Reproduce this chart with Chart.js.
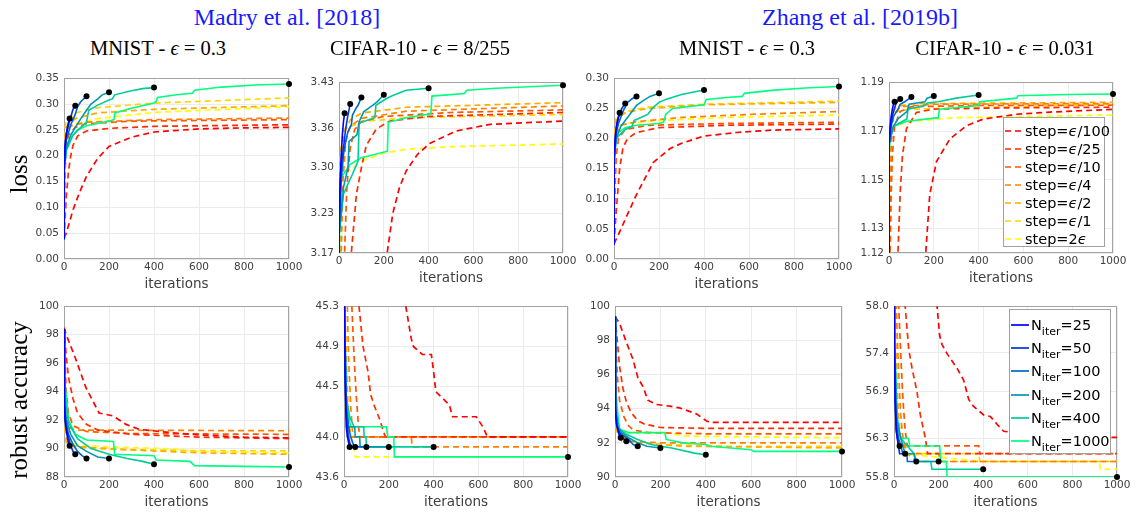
<!DOCTYPE html>
<html><head><meta charset="utf-8">
<script src="https://cdn.jsdelivr.net/npm/chart.js@4/dist/chart.umd.min.js"></script>
<style>
body{margin:0;background:#fff;width:1139px;height:513px;position:relative;overflow:hidden;font-family:'DejaVu Sans',sans-serif;}
.pane{position:absolute;}
.txt{position:absolute;transform:translate(-50%,-50%);white-space:nowrap;font-family:'Liberation Serif',serif;color:#000;z-index:5;}
.rot{transform:translate(-50%,-50%) rotate(-90deg);}
.legend{position:absolute;background:#fff;border:1px solid #a0a0a0;z-index:6;box-sizing:border-box;font-family:'DejaVu Sans',sans-serif;color:#000;}
.row{display:flex;align-items:center;white-space:nowrap;}
.row svg{flex:none;}
</style></head><body>
<div class="txt" style="left:287px;top:17px;font-size:24px;color:rgb(25,25,255)">Madry et al. [2018]</div>
<div class="txt" style="left:860px;top:17px;font-size:24px;color:rgb(25,25,255)">Zhang et al. [2019b]</div>
<div class="txt" style="left:158px;top:48px;font-size:20.5px">MNIST - <i>ϵ</i> = 0.3</div>
<div class="txt" style="left:420px;top:48px;font-size:20.5px">CIFAR-10 - <i>ϵ</i> = 8/255</div>
<div class="txt" style="left:747px;top:48px;font-size:20.5px">MNIST - <i>ϵ</i> = 0.3</div>
<div class="txt" style="left:1005px;top:48px;font-size:20.5px">CIFAR-10 - <i>ϵ</i> = 0.031</div>
<div class="txt rot" style="left:19px;top:174px;font-size:25px">loss</div>
<div class="txt rot" style="left:19px;top:400px;font-size:25px">robust accuracy</div>
<div id="leg1" class="legend" style="left:1003px;top:117px;width:102px;height:130px;padding-top:4px"></div>
<div id="leg2" class="legend" style="left:1009px;top:309px;width:102px;height:145px;padding-top:3px"></div>
<script>
// ---------- labels / ticks ----------
const STEP_LABELS = ['ϵ/100','ϵ/25','ϵ/10','ϵ/4','ϵ/2','ϵ/1','2ϵ'];
const NITER_LABELS = [25, 50, 100, 200, 400, 1000];
const X_TICKS = [0, 200, 400, 600, 800, 1000];
const A_YTICKS = ['0.00','0.05','0.10','0.15','0.20','0.25','0.30','0.35'];
const B_YTICKS = ['3.17','3.23','3.30','3.36','3.43'];
const C_YTICKS = ['0.00','0.05','0.10','0.15','0.20','0.25','0.30'];
const D_YTICKS = ['1.12','1.13','1.15','1.17','1.19'];
const E_YTICKS = ['88','90','92','94','96','98','100'];
const F_YTICKS = ['43.6','44.0','44.5','44.9','45.3'];
const G_YTICKS = ['90','92','94','96','98','100'];
const H_YTICKS = ['55.8','56.3','56.9','57.4','58.0'];

// ---------- A: Madry, MNIST, loss ----------
const A_STEP = [
 [[0,0.04],[10,0.05],[20,0.065],[40,0.095],[70,0.13],[100,0.16],[150,0.195],[200,0.218],[300,0.236],[400,0.246],[600,0.252],[800,0.254],[1000,0.255]],
 [[0,0.04],[5,0.08],[10,0.12],[20,0.17],[30,0.2],[40,0.22],[60,0.238],[100,0.248],[200,0.253],[400,0.257],[1000,0.26]],
 [[0,0.04],[3,0.12],[6,0.18],[10,0.215],[20,0.24],[50,0.255],[100,0.262],[300,0.267],[1000,0.27]],
 [[0,0.04],[2,0.15],[5,0.22],[10,0.245],[30,0.258],[100,0.265],[400,0.27],[1000,0.273]],
 [[0,0.04],[1,0.15],[3,0.23],[10,0.255],[50,0.272],[150,0.283],[400,0.29],[1000,0.297]],
 [[0,0.04],[1,0.2],[3,0.25],[10,0.268],[50,0.283],[150,0.293],[400,0.302],[700,0.307],[1000,0.312]],
 [[0,0.04],[1,0.2],[3,0.235],[10,0.25],[50,0.262],[150,0.272],[400,0.284],[1000,0.295]]
];
const A_NITER = [
 [[0,0.04],[1,0.18],[5,0.22],[10,0.24],[15,0.255],[20,0.265],[25,0.272]],
 [[0,0.04],[1,0.18],[5,0.22],[10,0.24],[20,0.26],[30,0.275],[40,0.29],[50,0.297]],
 [[0,0.04],[1,0.18],[10,0.23],[20,0.245],[30,0.26],[50,0.28],[60,0.295],[75,0.305],[100,0.315]],
 [[0,0.04],[1,0.18],[10,0.215],[30,0.24],[50,0.255],[75,0.272],[100,0.288],[120,0.3],[150,0.31],[170,0.318],[200,0.323]],
 [[0,0.04],[1,0.17],[10,0.21],[40,0.24],[70,0.253],[100,0.265],[110,0.288],[150,0.298],[200,0.308],[215,0.31],[225,0.318],[300,0.326],[350,0.33],[400,0.332]],
 [[0,0.04],[2,0.17],[10,0.215],[30,0.235],[60,0.25],[100,0.258],[200,0.267],[222,0.27],[226,0.283],[300,0.292],[400,0.302],[410,0.305],[415,0.313],[500,0.318],[570,0.321],[580,0.327],[700,0.333],[850,0.337],[1000,0.339]]
];

// ---------- B: Madry, CIFAR-10, loss ----------
const B_STEP = [
 [[180,3.05],[215,3.17],[240,3.23],[270,3.27],[300,3.295],[350,3.32],[405,3.337],[525,3.356],[675,3.366],[1000,3.371]],
 [[45,3.05],[55,3.17],[78,3.26],[100,3.30],[122,3.334],[167,3.359],[227,3.371],[400,3.378],[1000,3.384]],
 [[18,3.05],[25,3.17],[35,3.27],[50,3.33],[70,3.358],[100,3.37],[200,3.378],[500,3.384],[1000,3.388]],
 [[5,3.05],[10,3.17],[18,3.28],[30,3.34],[50,3.363],[100,3.375],[300,3.386],[1000,3.394]],
 [[0,3.05],[5,3.2],[10,3.3],[20,3.35],[50,3.373],[100,3.383],[300,3.392],[1000,3.399]],
 [[0,3.05],[1,3.2],[5,3.32],[20,3.358],[100,3.37],[300,3.376],[1000,3.381]],
 [[0,3.05],[1,3.2],[5,3.27],[20,3.29],[100,3.31],[200,3.322],[300,3.328],[500,3.332],[1000,3.336]]
];
const B_NITER = [
 [[0,3.05],[1,3.22],[5,3.28],[10,3.32],[15,3.35],[20,3.37],[25,3.383]],
 [[0,3.05],[1,3.22],[5,3.27],[10,3.3],[20,3.33],[30,3.36],[40,3.38],[50,3.397]],
 [[0,3.05],[1,3.2],[10,3.28],[20,3.32],[30,3.34],[40,3.355],[55,3.365],[60,3.38],[75,3.39],[85,3.395],[100,3.407]],
 [[0,3.05],[1,3.2],[20,3.27],[40,3.3],[45,3.34],[80,3.35],[90,3.37],[110,3.385],[150,3.395],[170,3.4],[200,3.411]],
 [[0,3.05],[1,3.2],[20,3.26],[60,3.29],[85,3.31],[90,3.368],[160,3.376],[165,3.395],[210,3.405],[240,3.41],[300,3.418],[400,3.421]],
 [[0,3.05],[2,3.25],[10,3.285],[50,3.305],[100,3.315],[216,3.325],[220,3.369],[300,3.376],[410,3.382],[415,3.409],[560,3.413],[570,3.418],[700,3.421],[1000,3.4255]]
];

// ---------- C: Zhang, MNIST, loss ----------
const C_STEP = [
 [[0,0.025],[25,0.045],[55,0.07],[100,0.107],[174,0.16],[248,0.183],[300,0.192],[397,0.204],[545,0.21],[700,0.214],[1000,0.216]],
 [[0,0.025],[10,0.08],[25,0.15],[40,0.185],[60,0.2],[100,0.21],[200,0.218],[500,0.222],[1000,0.224]],
 [[0,0.025],[5,0.12],[10,0.17],[20,0.2],[50,0.215],[150,0.222],[500,0.225],[1000,0.227]],
 [[0,0.025],[2,0.13],[5,0.19],[10,0.21],[30,0.222],[100,0.228],[300,0.235],[600,0.24],[1000,0.245]],
 [[0,0.025],[1,0.15],[3,0.2],[10,0.23],[50,0.243],[150,0.25],[400,0.256],[1000,0.26]],
 [[0,0.025],[1,0.18],[3,0.22],[10,0.235],[50,0.245],[150,0.252],[400,0.257],[1000,0.262]],
 [[0,0.025],[1,0.18],[3,0.21],[10,0.22],[50,0.225],[200,0.23],[500,0.235],[1000,0.239]]
];
const C_NITER = [
 [[0,0.025],[1,0.17],[5,0.2],[10,0.22],[20,0.237],[25,0.2426]],
 [[0,0.025],[1,0.17],[10,0.215],[20,0.235],[35,0.25],[50,0.2583]],
 [[0,0.025],[1,0.17],[10,0.21],[20,0.225],[40,0.245],[60,0.26],[80,0.266],[100,0.2697]],
 [[0,0.025],[1,0.17],[10,0.2],[30,0.22],[50,0.23],[70,0.24],[100,0.255],[130,0.263],[160,0.27],[200,0.275]],
 [[0,0.025],[1,0.16],[10,0.2],[50,0.215],[80,0.22],[90,0.23],[150,0.24],[170,0.25],[200,0.26],[230,0.265],[300,0.273],[400,0.2805]],
 [[0,0.025],[1,0.15],[5,0.19],[20,0.21],[50,0.218],[100,0.222],[200,0.225],[220,0.227],[230,0.24],[260,0.25],[400,0.256],[410,0.265],[500,0.268],[570,0.27],[580,0.275],[700,0.28],[850,0.284],[1000,0.2865]]
];

// ---------- D: Zhang, CIFAR-10, loss ----------
const D_STEP = [
 [[150,1.10],[164,1.12],[182,1.144],[212,1.1575],[272,1.1668],[346,1.1722],[421,1.1749],[570,1.1769],[720,1.1778],[1000,1.1789]],
 [[30,1.10],[40,1.12],[50,1.145],[60,1.16],[78,1.171],[122,1.1776],[197,1.179],[500,1.1795],[1000,1.1798]],
 [[2,1.10],[5,1.12],[10,1.145],[15,1.16],[25,1.172],[50,1.178],[100,1.18],[400,1.1805],[1000,1.1806]],
 [[1,1.10],[3,1.12],[5,1.145],[10,1.165],[20,1.176],[50,1.18],[200,1.181],[1000,1.1813]],
 [[0,1.10],[1,1.12],[3,1.15],[5,1.165],[10,1.175],[30,1.18],[100,1.1812],[1000,1.1818]],
 [[0,1.10],[1,1.13],[3,1.16],[10,1.175],[30,1.178],[100,1.179],[1000,1.181]],
 [[0,1.10],[1,1.15],[5,1.168],[20,1.172],[100,1.174],[300,1.1755],[1000,1.1766]]
];
const D_NITER = [
 [[0,1.10],[1,1.165],[5,1.172],[10,1.176],[15,1.179],[20,1.181],[25,1.182]],
 [[0,1.10],[1,1.165],[5,1.17],[10,1.174],[20,1.178],[30,1.181],[40,1.1825],[50,1.1832]],
 [[0,1.10],[1,1.165],[10,1.172],[20,1.176],[40,1.179],[50,1.181],[70,1.182],[100,1.184]],
 [[0,1.10],[1,1.165],[20,1.172],[40,1.175],[80,1.178],[90,1.181],[160,1.182],[170,1.1835],[200,1.1844]],
 [[0,1.10],[1,1.165],[20,1.172],[80,1.175],[85,1.179],[160,1.1805],[170,1.1815],[220,1.182],[300,1.1835],[400,1.1848]],
 [[0,1.10],[1,1.16],[5,1.168],[20,1.172],[80,1.174],[220,1.1755],[225,1.179],[400,1.1805],[405,1.182],[570,1.1835],[575,1.1845],[800,1.185],[1000,1.1852]]
];

// ---------- E: Madry, MNIST, robust accuracy ----------
const E_STEP = [
 [[0,98.5],[10,98],[52,96.3],[97,94.3],[156,92.5],[216,92.3],[276,91.7],[335,91.35],[455,91.15],[604,90.95],[800,90.8],[1000,90.75]],
 [[0,98.5],[10,96.5],[20,95],[40,93.5],[60,92.5],[100,91.7],[150,91.3],[300,91.0],[600,90.8],[1000,90.7]],
 [[0,98.5],[5,96],[10,94],[20,92.5],[40,91.6],[100,91.2],[300,91.05],[1000,91.0]],
 [[0,98.5],[3,95],[8,92.5],[20,91.5],[50,91.3],[1000,91.25]],
 [[0,98.5],[2,94],[5,91.5],[10,90.5],[30,90.2],[100,90.1],[300,89.9],[600,89.7],[1000,89.6]],
 [[0,98.5],[2,93],[5,91],[10,90.4],[50,90.1],[200,89.95],[600,89.85],[1000,89.84]],
 [[0,98.5],[1,94],[3,91.5],[10,90.6],[50,90.3],[200,90.1],[450,90.0],[600,89.8],[1000,89.7]]
];
const E_NITER = [
 [[0,98.4],[2,93],[5,92],[10,91.3],[15,90.8],[20,90.4],[25,90.2]],
 [[0,98.4],[2,93],[5,92],[10,91.5],[20,90.8],[30,90.2],[40,89.8],[50,89.6]],
 [[0,98.4],[2,93],[10,91.8],[20,91.0],[40,90.3],[60,89.8],[80,89.5],[100,89.3]],
 [[0,98.4],[2,93.5],[10,92],[30,91],[60,90.2],[100,89.8],[150,89.4],[200,89.3]],
 [[0,98.4],[2,94],[20,91.8],[60,90.7],[120,90.0],[200,89.6],[280,89.3],[350,89.1],[400,88.9]],
 [[0,98.4],[2,95],[20,92],[50,91],[100,90.6],[220,90.5],[225,89.6],[400,89.5],[410,89.2],[560,89.1],[580,88.8],[800,88.75],[1000,88.7]]
];

// ---------- F: Madry, CIFAR-10, robust accuracy ----------
const F_STEP = [
 [[265,46.0],[276,45.3],[300,44.98],[310,44.9],[350,44.82],[390,44.82],[400,44.65],[410,44.45],[470,44.32],[485,44.2],[590,44.2],[620,44.1],[640,44.0],[1000,44.0]],
 [[60,46.0],[67,45.3],[85,44.9],[107,44.65],[119,44.42],[137,44.3],[160,44.17],[175,44.06],[185,44.0],[1000,44.0]],
 [[30,46.0],[35,45.3],[45,44.8],[55,44.4],[65,44.1],[70,44.0],[1000,44.0]],
 [[10,46.0],[15,45.3],[20,44.8],[30,44.3],[40,44.0],[300,44.0],[305,43.9],[1000,43.9]],
 [[0,46.0],[5,45.3],[10,44.8],[20,44.2],[30,44.0],[1000,44.0]],
 [[0,46.0],[3,45.3],[10,44.5],[20,44.0],[1000,44.0]],
 [[0,46.0],[3,45.3],[10,44.4],[30,44.0],[45,43.9],[50,43.8],[1000,43.8]]
];
const F_NITER = [
 [[0,46.0],[2,45.3],[5,44.6],[10,44.1],[15,44.0],[20,43.95],[25,43.9]],
 [[0,46.0],[2,45.3],[5,44.6],[10,44.2],[20,44.0],[30,43.9],[50,43.9]],
 [[0,46.0],[2,45.3],[10,44.3],[20,44.1],[30,44.0],[45,43.9],[100,43.9]],
 [[0,46.0],[2,45.3],[10,44.3],[20,44.1],[48,44.1],[50,44.0],[70,44.0],[72,43.9],[200,43.9]],
 [[0,46.0],[2,45.3],[10,44.4],[25,44.2],[45,44.1],[88,44.1],[90,44.0],[98,44.0],[100,43.9],[400,43.9]],
 [[0,46.0],[2,45.3],[5,44.8],[10,44.4],[20,44.2],[30,44.1],[190,44.1],[195,44.0],[222,44.0],[225,43.8],[1000,43.8]]
];

// ---------- G: Zhang, MNIST, robust accuracy ----------
const G_STEP = [
 [[0,99.4],[20,99.0],[50,97.9],[79,96.9],[101,95.8],[123,95.3],[145,94.5],[182,94.25],[240,94.15],[284,94.05],[358,93.7],[402,93.3],[416,93.2],[1000,93.2]],
 [[0,99.4],[10,98],[20,96.5],[35,95.2],[50,94.4],[70,93.8],[100,93.3],[130,93.1],[200,92.9],[400,92.85],[1000,92.85]],
 [[0,99.4],[5,97.5],[10,96],[20,94.5],[40,93.5],[60,93],[80,92.75],[150,92.6],[400,92.53],[1000,92.53]],
 [[0,99.4],[3,96],[8,94],[15,93],[30,92.4],[60,92.1],[200,92.0],[1000,92.0]],
 [[0,99.4],[2,96],[5,93.5],[10,92.6],[30,92.1],[100,92.0],[300,91.8],[1000,91.7]],
 [[0,99.4],[2,95],[5,93],[10,92.4],[50,92.1],[200,91.9],[500,91.8],[1000,91.8]],
 [[0,99.4],[1,95],[3,93.5],[10,92.8],[50,92.6],[250,92.55],[300,92.4],[600,92.35],[1000,92.3]]
];
const G_NITER = [
 [[0,99.4],[2,94],[5,93.2],[10,92.9],[15,92.6],[20,92.4],[25,92.3]],
 [[0,99.4],[2,94],[10,92.9],[20,92.6],[30,92.4],[40,92.2],[50,92.1]],
 [[0,99.4],[2,94],[10,93],[20,92.6],[40,92.4],[60,92.2],[80,91.9],[100,91.8]],
 [[0,99.4],[2,94],[10,93],[30,92.6],[60,92.3],[100,92.0],[140,91.8],[200,91.7]],
 [[0,99.4],[2,94],[20,92.8],[50,92.5],[100,92.2],[160,91.9],[200,91.8],[250,91.7],[350,91.4],[400,91.3]],
 [[0,99.4],[2,95],[20,92.8],[60,92.6],[220,92.6],[225,92.2],[300,92.0],[400,91.9],[420,91.8],[600,91.6],[610,91.5],[1000,91.5]]
];

// ---------- H: Zhang, CIFAR-10, robust accuracy ----------
const H_STEP = [
 [[188,58.3],[193,58.0],[205,57.62],[215,57.51],[238,57.39],[283,57.2],[312,57.05],[335,56.8],[357,56.71],[402,56.6],[432,56.58],[462,56.48],[492,56.39],[600,56.35],[800,56.32],[1000,56.31]],
 [[45,58.3],[50,58.0],[66,57.45],[81,57.2],[103,56.9],[118,56.6],[140,56.31],[151,56.1],[1000,56.1]],
 [[15,58.3],[21,58.0],[30,57.4],[40,56.8],[50,56.4],[60,56.2],[380,56.2],[385,56.1],[1000,56.1]],
 [[5,58.3],[10,58.0],[20,57.2],[30,56.6],[40,56.3],[60,56.1],[200,56.1],[210,56.0],[1000,56.0]],
 [[2,58.3],[5,58.0],[10,57.3],[20,56.6],[30,56.3],[60,56.1],[100,56.0],[1000,56.0]],
 [[0,58.3],[3,58.0],[10,57.0],[20,56.4],[40,56.1],[380,56.1],[385,56.0],[1000,56.0]],
 [[0,58.3],[2,58.0],[10,56.8],[20,56.3],[40,56.1],[400,56.0],[920,56.0],[925,55.9],[1000,55.9]]
];
const H_NITER = [
 [[0,58.3],[2,57.5],[5,56.8],[10,56.4],[15,56.3],[20,56.2],[25,56.2]],
 [[0,58.3],[2,57.5],[5,56.8],[10,56.4],[20,56.2],[25,56.1],[50,56.1]],
 [[0,58.3],[2,57.5],[10,56.5],[20,56.3],[40,56.1],[58,56.1],[60,56.0],[100,56.0]],
 [[0,58.3],[2,57.5],[10,56.6],[30,56.3],[50,56.1],[90,56.1],[95,56.0],[200,56.0]],
 [[0,58.3],[2,57.6],[15,56.5],[30,56.3],[90,56.1],[100,56.0],[165,56.0],[170,55.9],[400,55.9]],
 [[0,58.3],[2,57.7],[10,56.8],[20,56.4],[30,56.3],[65,56.3],[70,56.2],[205,56.2],[210,56.0],[235,56.0],[238,55.8],[1000,55.8]]
];

// ---------- styles / layout ----------
const STEP_COLORS = ['rgb(255,0,0)','rgb(255,43,0)','rgb(255,85,0)','rgb(255,128,0)','rgb(255,170,0)','rgb(255,213,0)','rgb(255,255,0)'];
const NITER_COLORS = ['rgb(0,0,255)','rgb(0,51,230)','rgb(0,102,204)','rgb(0,153,179)','rgb(0,204,153)','rgb(0,255,128)'];
const PANELS = [
 {step:A_STEP, niter:A_NITER, ticks:A_YTICKS, rect:[64,75,225,184]},
 {step:B_STEP, niter:B_NITER, ticks:B_YTICKS, rect:[339,79,224,174]},
 {step:C_STEP, niter:C_NITER, ticks:C_YTICKS, rect:[614,75,225,184]},
 {step:D_STEP, niter:D_NITER, ticks:D_YTICKS, rect:[889,79,224,174]},
 {step:E_STEP, niter:E_NITER, ticks:E_YTICKS, rect:[64,303,225,174]},
 {step:F_STEP, niter:F_NITER, ticks:F_YTICKS, rect:[344,303,224,174]},
 {step:G_STEP, niter:G_NITER, ticks:G_YTICKS, rect:[615,303,227,174]},
 {step:H_STEP, niter:H_NITER, ticks:H_YTICKS, rect:[894,303,223,174]}
];
const YW = 46, PT = 8, PR = 18, XH = 34;
const DASH = [6, 4];

const boxPlugin = {
  id:'box',
  beforeDatasetsDraw(chart){
    const {ctx, chartArea:a} = chart;
    ctx.save(); ctx.strokeStyle = '#a3a3a3'; ctx.lineWidth = 1;
    ctx.strokeRect(Math.round(a.left)+0.5, Math.round(a.top)+0.5, Math.round(a.right-a.left)-1, Math.round(a.bottom-a.top)-1);
    ctx.restore();
  }
};

function makePanel(p){
  const [L,T,W,H] = p.rect;
  const cw = W + YW + PR, ch = H + PT + XH;
  const div = document.createElement('div');
  div.className = 'pane';
  div.style.left = (L-YW)+'px'; div.style.top = (T-PT)+'px';
  div.style.width = cw+'px'; div.style.height = ch+'px';
  const cv = document.createElement('canvas');
  cv.width = cw; cv.height = ch; cv.style.width = cw+'px'; cv.style.height = ch+'px';
  div.appendChild(cv); document.body.appendChild(div);
  const yVals = p.ticks.map(Number);
  const datasets = [];
  p.step.forEach((s,i)=>datasets.push({
    label:'step='+STEP_LABELS[i], data:s.map(([x,y])=>({x,y})), showLine:true,
    borderColor:STEP_COLORS[i], borderDash:DASH, borderWidth:1.7, pointRadius:0, order:2, clip:0
  }));
  p.niter.forEach((s,i)=>datasets.push({
    label:'Niter='+NITER_LABELS[i], data:s.map(([x,y])=>({x,y})), showLine:true,
    borderColor:NITER_COLORS[i], borderWidth:1.6, pointRadius:0, order:1, clip:0
  }));
  datasets.push({
    label:'end', data:p.niter.map(s=>{const [x,y]=s[s.length-1]; return {x,y};}),
    showLine:false, pointRadius:3, pointBackgroundColor:'#000', pointBorderColor:'#000', borderWidth:0, order:0, clip:false
  });
  const tickFont = {family:'DejaVu Sans', size:10.5};
  new Chart(cv, {
    type:'scatter',
    data:{datasets},
    plugins:[boxPlugin],
    options:{
      responsive:false, animation:false, events:[], devicePixelRatio:1,
      layout:{padding:{top:PT, right:PR, left:0, bottom:0}},
      plugins:{legend:{display:false}, tooltip:{enabled:false}},
      scales:{
        x:{type:'linear', min:0, max:1000,
           afterBuildTicks: ax=>{ ax.ticks = X_TICKS.map(v=>({value:v})); },
           afterFit: s=>{ s.height = XH; },
           ticks:{font:tickFont, color:'#404040', padding:2, maxRotation:0, autoSkip:false, callback:v=>String(v)},
           grid:{color:'#ebebeb', drawTicks:false}, border:{display:false},
           title:{display:true, text:'iterations', font:{family:'DejaVu Sans', size:13.5}, color:'#404040', padding:{top:0,bottom:0}}
        },
        y:{type:'linear', min:yVals[0], max:yVals[yVals.length-1],
           afterBuildTicks: ax=>{ ax.ticks = yVals.map(v=>({value:v})); },
           afterFit: s=>{ s.width = YW; },
           ticks:{font:tickFont, color:'#404040', padding:5, autoSkip:false, callback:(v,i)=>p.ticks[i]},
           grid:{color:'#ebebeb', drawTicks:false}, border:{display:false}
        }
      }
    }
  });
}
PANELS.forEach(makePanel);

// ---------- legends (HTML overlays) ----------
const leg1 = document.getElementById('leg1');
STEP_LABELS.forEach((lab,i)=>{
  const r = document.createElement('div'); r.className='row'; r.style.height='18px';
  r.innerHTML = `<svg width="19" height="4" style="margin-left:1px"><line x1="0" y1="2" x2="19" y2="2" stroke="${STEP_COLORS[i]}" stroke-width="1.7" stroke-dasharray="6 4"/></svg>`+
    `<span style="font-size:14.5px;margin-left:1px">step=${lab.replace(/ϵ/g,'<i>ϵ</i>')}</span>`;
  leg1.appendChild(r);
});
const leg2 = document.getElementById('leg2');
NITER_LABELS.forEach((n,i)=>{
  const r = document.createElement('div'); r.className='row'; r.style.height='23.3px';
  r.innerHTML = `<svg width="18" height="4" style="margin-left:1px"><line x1="0" y1="2" x2="18" y2="2" stroke="${NITER_COLORS[i]}" stroke-width="1.7"/></svg>`+
    `<span style="font-size:14.5px;margin-left:2px">N<span style="font-size:11px;position:relative;top:5px">iter</span>=${n}</span>`;
  leg2.appendChild(r);
});
</script>
</body></html>
